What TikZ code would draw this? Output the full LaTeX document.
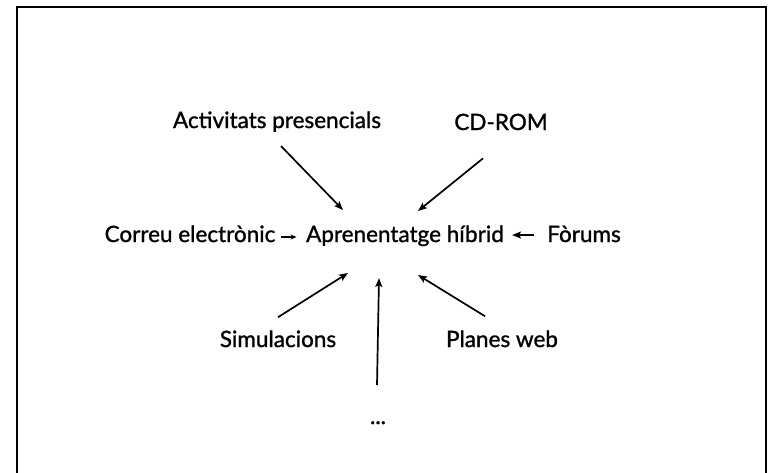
\documentclass[tikz,border=0pt]{standalone}
\usepackage{fontspec}
\setmainfont{Lato}[BoldFont=Lato, BoldFeatures={FakeBold=1.2}]
\usepackage{tikz}
\usetikzlibrary{arrows.meta}

\begin{document}
\begin{tikzpicture}[x=1pt,y=-1pt,
    lbl/.style={font=\fontsize{22.5}{27}\selectfont\bfseries, inner sep=1pt, anchor=base},
    arr/.style={line width=1.7pt, -{Stealth[length=9pt,width=7pt,inset=2pt]}}]
      \useasboundingbox (0,0) rectangle (769,472);
      \draw[line width=2.4pt] (17,475) -- (17,7) -- (766,7) -- (766,475);
      \node[lbl] (hub) at (405,242) {Aprenentatge híbrid};
      \node[lbl] (act) at (277,128) {Activitats presencials};
      \node[lbl] (cd) at (501,130) {CD-ROM};
      \node[lbl] (mail) at (190,242) {Correu electrònic};
      \node[lbl] (forum) at (584,242) {Fòrums};
      \node[lbl] (sim) at (278,347) {Simulacions};
      \node[lbl] (web) at (502,347) {Planes web};
      \node[lbl] (more) at (378,424) {...};
      \coordinate (actE) at (343,210);
      \coordinate (cdE) at (418,211);
      \coordinate (simE) at (348,273);
      \coordinate (moreE) at (379,278);
      \coordinate (webE) at (418,275);
      \draw[arr] (act.south) ++(4,13) -- (actE);
      \draw[arr] (cd.south) ++(-18,27) -- (cdE);
      \draw[arr, -{Stealth[length=6pt,width=5pt]}] (mail.base east) ++(4,-5) -- ++(16,0);
      \draw[arr] (forum.base west) ++(-12,-7) -- ++(-22,0);
      \draw[arr] (sim.north) ++(0,-12) -- (simE);
      \draw[arr] (more.north) ++(-1,-35) -- (moreE);
      \draw[arr] (web.north) ++(-17,-13) -- (webE);
\end{tikzpicture}
\end{document}
